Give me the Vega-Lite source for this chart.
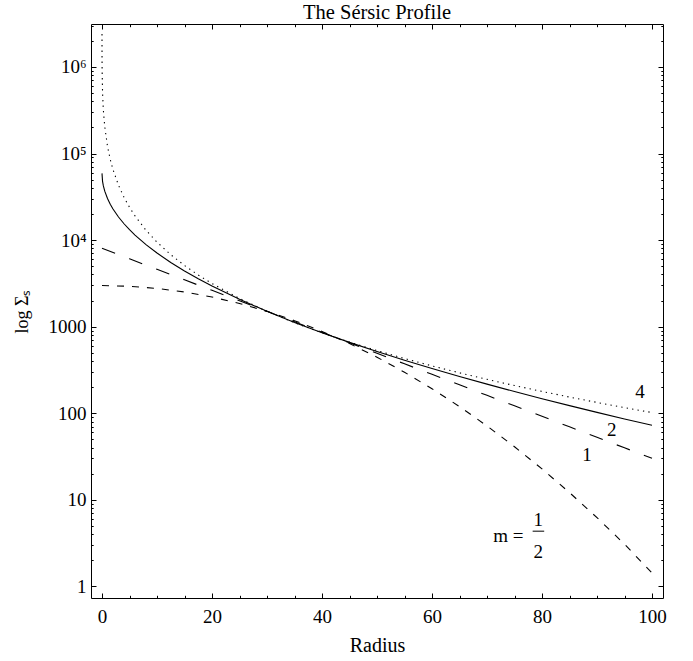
{
  "$schema": "https://vega.github.io/schema/vega-lite/v6.json",
  "width": 572,
  "height": 574,
  "autosize": {"type": "none"},
  "padding": {"left": 91, "top": 24, "right": 30, "bottom": 63},
  "background": "white",
  "title": {"text": "The Sérsic Profile", "font": "Liberation Serif", "fontSize": 20.5, "fontWeight": "normal", "color": "black", "anchor": "middle", "frame": "group", "offset": 0},
  "config": {
    "view": {"stroke": "black", "strokeWidth": 1},
    "axis": {"domain": false, "grid": false, "minExtent": 0, "tickColor": "black", "tickWidth": 1, "labelFont": "Liberation Serif", "labelFontSize": 19, "labelColor": "black", "titleFont": "Liberation Serif", "titleColor": "black", "titleFontWeight": "normal"}
  },
  "data": {"values": [
    {"m": 0.5, "r": 0, "sigma": 2979}, {"m": 0.5, "r": 5, "sigma": 2923}, {"m": 0.5, "r": 10, "sigma": 2760}, {"m": 0.5, "r": 15, "sigma": 2509}, {"m": 0.5, "r": 20, "sigma": 2196}, {"m": 0.5, "r": 25, "sigma": 1850}, {"m": 0.5, "r": 30, "sigma": 1500}, {"m": 0.5, "r": 35, "sigma": 1171}, {"m": 0.5, "r": 40, "sigma": 879.6}, {"m": 0.5, "r": 45, "sigma": 636.1}, {"m": 0.5, "r": 50, "sigma": 442.9}, {"m": 0.5, "r": 55, "sigma": 296.7}, {"m": 0.5, "r": 60, "sigma": 191.4}, {"m": 0.5, "r": 65, "sigma": 118.9}, {"m": 0.5, "r": 70, "sigma": 71.08}, {"m": 0.5, "r": 75, "sigma": 40.88}, {"m": 0.5, "r": 80, "sigma": 22.64}, {"m": 0.5, "r": 85, "sigma": 12.07}, {"m": 0.5, "r": 90, "sigma": 6.196}, {"m": 0.5, "r": 95, "sigma": 3.06}, {"m": 0.5, "r": 100, "sigma": 1.42},
    {"m": 1, "r": 0, "sigma": 8021}, {"m": 1, "r": 5, "sigma": 6066}, {"m": 1, "r": 10, "sigma": 4587}, {"m": 1, "r": 15, "sigma": 3469}, {"m": 1, "r": 20, "sigma": 2623}, {"m": 1, "r": 25, "sigma": 1984}, {"m": 1, "r": 30, "sigma": 1500}, {"m": 1, "r": 35, "sigma": 1134}, {"m": 1, "r": 40, "sigma": 857.9}, {"m": 1, "r": 45, "sigma": 648.8}, {"m": 1, "r": 50, "sigma": 490.6}, {"m": 1, "r": 55, "sigma": 371.0}, {"m": 1, "r": 60, "sigma": 280.6}, {"m": 1, "r": 65, "sigma": 212.2}, {"m": 1, "r": 70, "sigma": 160.5}, {"m": 1, "r": 75, "sigma": 121.4}, {"m": 1, "r": 80, "sigma": 91.77}, {"m": 1, "r": 85, "sigma": 69.4}, {"m": 1, "r": 90, "sigma": 52.49}, {"m": 1, "r": 95, "sigma": 39.69}, {"m": 1, "r": 100, "sigma": 30.02},
    {"m": 2, "r": 0, "sigma": 58970}, {"m": 2, "r": 0.1, "sigma": 47710}, {"m": 2, "r": 0.25, "sigma": 42180}, {"m": 2, "r": 0.5, "sigma": 36710}, {"m": 2, "r": 1, "sigma": 30170}, {"m": 2, "r": 1.5, "sigma": 25950}, {"m": 2, "r": 2, "sigma": 22850}, {"m": 2, "r": 3, "sigma": 18470}, {"m": 2, "r": 4, "sigma": 15430}, {"m": 2, "r": 5, "sigma": 13170}, {"m": 2, "r": 6, "sigma": 11420}, {"m": 2, "r": 8, "sigma": 8856}, {"m": 2, "r": 10, "sigma": 7080}, {"m": 2, "r": 12.5, "sigma": 5513}, {"m": 2, "r": 15, "sigma": 4397}, {"m": 2, "r": 17.5, "sigma": 3571}, {"m": 2, "r": 20, "sigma": 2942}, {"m": 2, "r": 25, "sigma": 2065}, {"m": 2, "r": 30, "sigma": 1500}, {"m": 2, "r": 35, "sigma": 1118}, {"m": 2, "r": 40, "sigma": 850}, {"m": 2, "r": 45, "sigma": 657}, {"m": 2, "r": 50, "sigma": 515.4}, {"m": 2, "r": 55, "sigma": 408.9}, {"m": 2, "r": 60, "sigma": 327.8}, {"m": 2, "r": 65, "sigma": 265.2}, {"m": 2, "r": 70, "sigma": 216.3}, {"m": 2, "r": 75, "sigma": 177.6}, {"m": 2, "r": 80, "sigma": 146.8}, {"m": 2, "r": 85, "sigma": 122.1}, {"m": 2, "r": 90, "sigma": 102.0}, {"m": 2, "r": 95, "sigma": 85.7}, {"m": 2, "r": 100, "sigma": 72.4},
    {"m": 4, "r": 0, "sigma": 2400000}, {"m": 4, "r": 0.005, "sigma": 1344000}, {"m": 4, "r": 0.02, "sigma": 936700}, {"m": 4, "r": 0.1, "sigma": 508500}, {"m": 4, "r": 0.25, "sigma": 316600}, {"m": 4, "r": 0.5, "sigma": 204300}, {"m": 4, "r": 1, "sigma": 121200}, {"m": 4, "r": 1.5, "sigma": 85470}, {"m": 4, "r": 2, "sigma": 65210}, {"m": 4, "r": 3, "sigma": 43030}, {"m": 4, "r": 4, "sigma": 31190}, {"m": 4, "r": 5, "sigma": 23910}, {"m": 4, "r": 6, "sigma": 19030}, {"m": 4, "r": 8, "sigma": 12980}, {"m": 4, "r": 10, "sigma": 9460}, {"m": 4, "r": 12.5, "sigma": 6774}, {"m": 4, "r": 15, "sigma": 5081}, {"m": 4, "r": 17.5, "sigma": 3944}, {"m": 4, "r": 20, "sigma": 3142}, {"m": 4, "r": 25, "sigma": 2111}, {"m": 4, "r": 30, "sigma": 1500}, {"m": 4, "r": 35, "sigma": 1110}, {"m": 4, "r": 40, "sigma": 846.8}, {"m": 4, "r": 45, "sigma": 662}, {"m": 4, "r": 50, "sigma": 527.7}, {"m": 4, "r": 55, "sigma": 427.6}, {"m": 4, "r": 60, "sigma": 351.4}, {"m": 4, "r": 65, "sigma": 292.3}, {"m": 4, "r": 70, "sigma": 245.7}, {"m": 4, "r": 75, "sigma": 208.3}, {"m": 4, "r": 80, "sigma": 178.1}, {"m": 4, "r": 85, "sigma": 153.3}, {"m": 4, "r": 90, "sigma": 132.9}, {"m": 4, "r": 95, "sigma": 115.8}, {"m": 4, "r": 100, "sigma": 101.5}
  ]},
  "resolve": {"axis": {"x": "independent", "y": "independent"}},
  "layer": [
    {
      "transform": [{"filter": "datum.m == 0.5"}],
      "mark": {"type": "line", "stroke": "black", "strokeWidth": 1.1, "strokeDash": [7, 8], "clip": true},
      "encoding": {
        "x": {"field": "r", "type": "quantitative", "scale": {"domain": [-2, 102], "nice": false, "zero": false},
          "axis": {"orient": "bottom", "values": [0, 20, 40, 60, 80, 100], "format": "d", "tickSize": -5, "labelPadding": 14, "labelFlush": false, "labelOverlap": false, "title": "Radius", "titleFontSize": 20, "titlePadding": 9}},
        "y": {"field": "sigma", "type": "quantitative", "scale": {"type": "log", "domain": [0.73, 3140000], "nice": false},
          "axis": {"orient": "left", "values": [1, 10, 100, 1000, 10000, 100000, 1000000], "tickSize": -5, "labelPadding": 10, "labelOverlap": false, "labelExpr": "datum.value >= 1000000 ? '10⁶' : datum.value >= 100000 ? '10⁵' : datum.value >= 10000 ? '10⁴' : format(datum.value, 'd')", "title": "log Σₛ", "titleFontSize": 18, "titlePadding": 17}}
      }
    },
    {
      "transform": [{"filter": "datum.m == 1"}],
      "mark": {"type": "line", "stroke": "black", "strokeWidth": 1.1, "strokeDash": [14, 15], "clip": true},
      "encoding": {
        "x": {"field": "r", "type": "quantitative", "scale": {"domain": [-2, 102], "nice": false, "zero": false},
          "axis": {"orient": "bottom", "values": [5, 10, 15, 25, 30, 35, 45, 50, 55, 65, 70, 75, 85, 90, 95], "tickSize": -2.7, "labels": false, "title": null}},
        "y": {"field": "sigma", "type": "quantitative", "scale": {"type": "log", "domain": [0.73, 3140000], "nice": false},
          "axis": {"orient": "left", "values": [2, 3, 4, 5, 6, 7, 8, 9, 20, 30, 40, 50, 60, 70, 80, 90, 200, 300, 400, 500, 600, 700, 800, 900, 2000, 3000, 4000, 5000, 6000, 7000, 8000, 9000, 20000, 30000, 40000, 50000, 60000, 70000, 80000, 90000, 200000, 300000, 400000, 500000, 600000, 700000, 800000, 900000, 2000000, 3000000], "tickSize": -2.2, "labels": false, "title": null}}
      }
    },
    {
      "transform": [{"filter": "datum.m == 2"}],
      "mark": {"type": "line", "stroke": "black", "strokeWidth": 1.1, "clip": true},
      "encoding": {
        "x": {"field": "r", "type": "quantitative", "scale": {"domain": [-2, 102], "nice": false, "zero": false},
          "axis": {"orient": "top", "values": [0, 20, 40, 60, 80, 100], "tickSize": -5, "labels": false, "title": null}},
        "y": {"field": "sigma", "type": "quantitative", "scale": {"type": "log", "domain": [0.73, 3140000], "nice": false},
          "axis": {"orient": "right", "values": [1, 10, 100, 1000, 10000, 100000, 1000000], "tickSize": -5, "labels": false, "title": null}}
      }
    },
    {
      "transform": [{"filter": "datum.m == 4"}],
      "mark": {"type": "line", "stroke": "black", "strokeWidth": 1.1, "strokeDash": [1.3, 4.2], "clip": true},
      "encoding": {
        "x": {"field": "r", "type": "quantitative", "scale": {"domain": [-2, 102], "nice": false, "zero": false},
          "axis": {"orient": "top", "values": [5, 10, 15, 25, 30, 35, 45, 50, 55, 65, 70, 75, 85, 90, 95], "tickSize": -2.7, "labels": false, "title": null}},
        "y": {"field": "sigma", "type": "quantitative", "scale": {"type": "log", "domain": [0.73, 3140000], "nice": false},
          "axis": {"orient": "right", "values": [2, 3, 4, 5, 6, 7, 8, 9, 20, 30, 40, 50, 60, 70, 80, 90, 200, 300, 400, 500, 600, 700, 800, 900, 2000, 3000, 4000, 5000, 6000, 7000, 8000, 9000, 20000, 30000, 40000, 50000, 60000, 70000, 80000, 90000, 200000, 300000, 400000, 500000, 600000, 700000, 800000, 900000, 2000000, 3000000], "tickSize": -2.2, "labels": false, "title": null}}
      }
    },
    {
      "data": {"values": [
        {"label": "4", "x": 97.8, "y": 175},
        {"label": "2", "x": 92.7, "y": 63.6},
        {"label": "1", "x": 88.2, "y": 32.7},
        {"label": "m =", "x": 73.9, "y": 3.79},
        {"label": "1", "x": 79.3, "y": 5.79},
        {"label": "2", "x": 79.3, "y": 2.47}
      ]},
      "mark": {"type": "text", "font": "Liberation Serif", "fontSize": 19, "color": "black", "align": "center", "baseline": "middle"},
      "encoding": {
        "x": {"field": "x", "type": "quantitative", "axis": null},
        "y": {"field": "y", "type": "quantitative", "axis": null},
        "text": {"field": "label"}
      }
    },
    {
      "data": {"values": [{"x": 78.3, "x2": 80.4, "y": 4.32}]},
      "mark": {"type": "rule", "stroke": "black", "strokeWidth": 1},
      "encoding": {
        "x": {"field": "x", "type": "quantitative", "axis": null},
        "x2": {"field": "x2"},
        "y": {"field": "y", "type": "quantitative", "axis": null}
      }
    }
  ]
}
